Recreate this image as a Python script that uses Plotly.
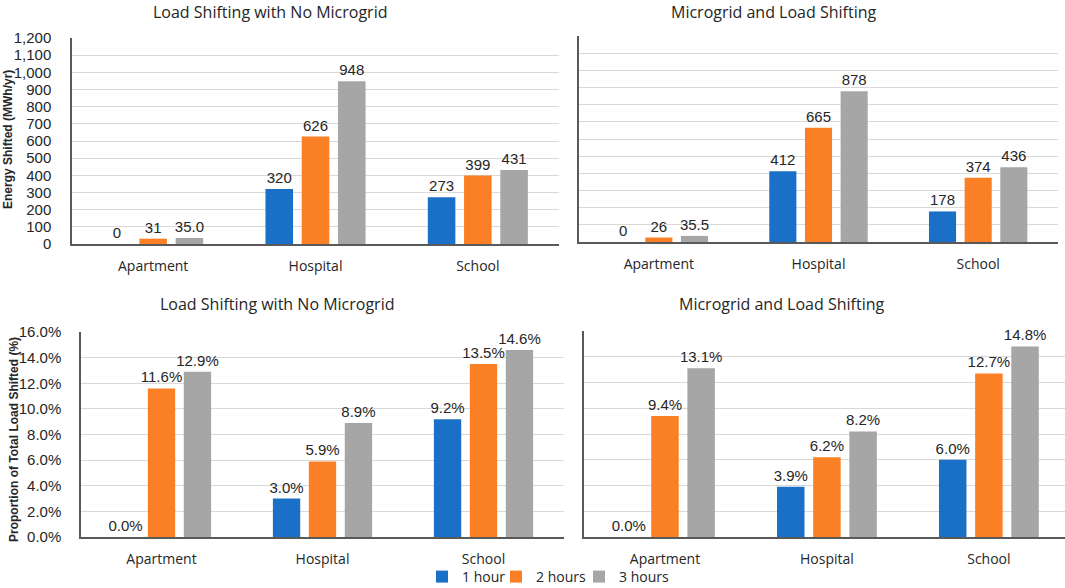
import plotly.graph_objects as go

categories = ["Apartment", "Hospital", "School"]
series_names = ["1 hour", "2 hours", "3 hours"]
colors = ["#1A6FC6", "#FB7F24", "#A6A6A6"]

# Energy shifted (MWh/yr)
energy_no_mg = [[0, 320, 273], [31, 626, 399], [35.0, 948, 431]]
energy_no_mg_labels = [["0", "320", "273"], ["31", "626", "399"], ["35.0", "948", "431"]]
energy_mg = [[0, 412, 178], [26, 665, 374], [35.5, 878, 436]]
energy_mg_labels = [["0", "412", "178"], ["26", "665", "374"], ["35.5", "878", "436"]]

# Proportion of total load shifted (%)
prop_no_mg = [[0.0, 3.0, 9.2], [11.6, 5.9, 13.5], [12.9, 8.9, 14.6]]
prop_mg = [[0.0, 3.9, 6.0], [9.4, 6.2, 12.7], [13.1, 8.2, 14.8]]

titles = ["Load Shifting with No Microgrid", "Microgrid and Load Shifting",
          "Load Shifting with No Microgrid", "Microgrid and Load Shifting"]
y_title_top = "Energy Shifted (MWh/yr)"
y_title_bottom = "Proportion of Total Load Shifted (%)"

W, H = 1065, 588
def px_x(v):
    return v / W
def px_y(v):
    return (H - v) / H

fig = go.Figure()

LABEL_FONT = dict(family="Liberation Sans, Arial", size=15, color="#262626")
legend_ids = ["legend", "legend2", "legend3"]

panels = [
    ("x", "y", energy_no_mg, energy_no_mg_labels),
    ("x2", "y2", energy_mg, energy_mg_labels),
    ("x3", "y3", prop_no_mg, None),
    ("x4", "y4", prop_mg, None),
]
for pi, (xa, ya, data, labels) in enumerate(panels):
    for si in range(3):
        if labels is not None:
            txt = labels[si]
        else:
            txt = [f"{v:.1f}%" for v in data[si]]
        fig.add_trace(go.Bar(
            x=categories, y=data[si], name=series_names[si],
            marker=dict(color=colors[si], line=dict(width=0)),
            text=txt, textposition="outside", cliponaxis=False,
            textfont=LABEL_FONT, xaxis=xa, yaxis=ya,
            legend=legend_ids[si],
            legendgroup=series_names[si], showlegend=(pi == 0),
        ))

GRID = "#D9D9D9"
AXIS = "#595959"
TICKFONT = dict(family="Liberation Sans, Arial", size=15, color="#262626")
CATFONT = dict(family="Open Sans, Lato, sans-serif", size=14, color="#262626")

def xaxis(dom, anchor, rmax=2.5):
    return dict(domain=dom, anchor=anchor, type="category", range=[-0.5, rmax],
                showline=True, linecolor=AXIS, linewidth=1.5, showgrid=False,
                tickfont=CATFONT, ticks="", ticklabelstandoff=8, fixedrange=True,
                automargin=False)

def yaxis(dom, anchor, rng, dtick, showlabels, fmt, suffix="", standoff=6):
    return dict(domain=dom, anchor=anchor, range=rng, dtick=dtick, tick0=0,
                showline=True, linecolor=AXIS, linewidth=1.5,
                showgrid=True, gridcolor=GRID, gridwidth=1, zeroline=False,
                showticklabels=showlabels, tickformat=fmt, ticksuffix=suffix,
                tickfont=TICKFONT, ticks="", ticklabelstandoff=standoff, fixedrange=True,
                automargin=False)

LEG_FONT = dict(family="Open Sans, Lato, sans-serif", size=14, color="#262626")
def legend_at(xpx):
    return dict(orientation="h", x=px_x(xpx), xanchor="left", y=px_y(593), yanchor="bottom",
                font=LEG_FONT, itemwidth=30, bgcolor="rgba(0,0,0,0)")

fig.update_layout(
    width=W, height=H,
    margin=dict(l=0, r=0, t=0, b=0, autoexpand=False),
    paper_bgcolor="white", plot_bgcolor="white",
    barmode="group", bargap=0.33, bargroupgap=0.24,
    uniformtext=dict(minsize=15, mode="show"),
    xaxis=xaxis([px_x(72), px_x(559)], "y"),
    xaxis2=xaxis([px_x(579), px_x(1058)], "y2"),
    xaxis3=xaxis([px_x(81), px_x(564)], "y3"),
    xaxis4=xaxis([px_x(584), px_x(1065)], "y4", rmax=2.47),
    yaxis=yaxis([px_y(244), px_y(38)], "x", [0, 1200], 100, True, ",", standoff=16),
    yaxis2=yaxis([px_y(242), px_y(36)], "x2", [0, 1200], 100, False, ","),
    yaxis3=yaxis([px_y(537), px_y(332)], "x3", [0, 16], 2, True, ".1f", "%", standoff=15),
    yaxis4=yaxis([px_y(537), px_y(331)], "x4", [0, 16], 2, False, ".1f", "%"),
    legend=legend_at(422),
    legend2=legend_at(496),
    legend3=legend_at(579),
    showlegend=True,
)

TITLEFONT = dict(family="Open Sans, Lato, sans-serif", size=16, color="#262626")
title_pos = [(270, 12), (773, 12), (277, 304), (781, 304)]
for t, (tx, ty) in zip(titles, title_pos):
    fig.add_annotation(text=t, x=px_x(tx), y=px_y(ty), xref="paper", yref="paper",
                       showarrow=False, font=TITLEFONT, xanchor="center", yanchor="middle")

YT_FONT = dict(family="Liberation Sans, Arial", size=12, color="#262626")
fig.add_annotation(text="<b>" + y_title_top + "</b>", x=px_x(8), y=px_y(140),
                   xref="paper", yref="paper", showarrow=False, textangle=-90,
                   font=YT_FONT, xanchor="center", yanchor="middle")
fig.add_annotation(text="<b>" + y_title_bottom + "</b>", x=px_x(14), y=px_y(440),
                   xref="paper", yref="paper", showarrow=False, textangle=-90,
                   font=YT_FONT, xanchor="center", yanchor="middle")

fig.write_html("out.html", config={"displayModeBar": False},
               post_script="document.body.style.margin='0px';")
